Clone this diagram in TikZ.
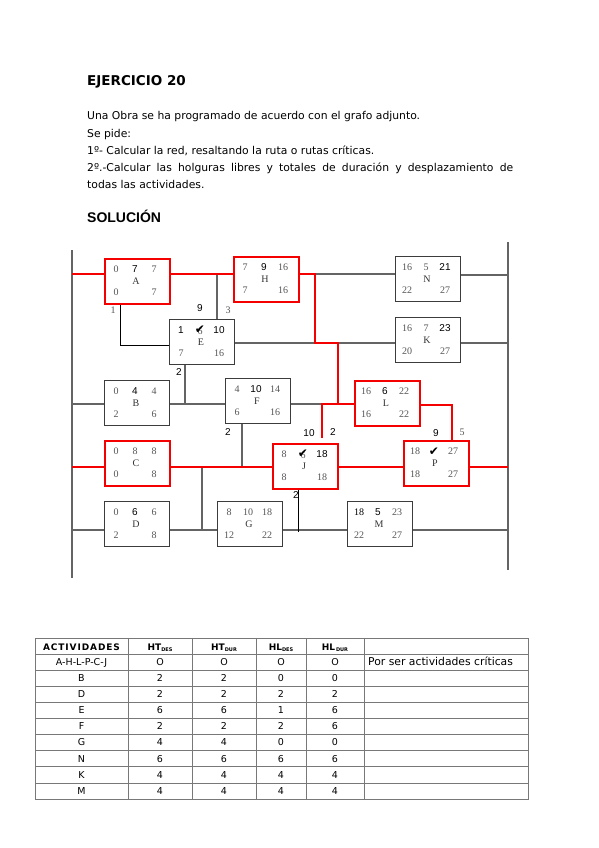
\documentclass[tikz,border=0pt]{standalone}
\usepackage{fontspec}
\setmainfont{DejaVu Sans}
\newfontfamily\serifnum{Liberation Serif}
\newfontfamily\arialf{Liberation Sans}
\newfontfamily\djv{DejaVu Sans}
\usetikzlibrary{calc}
\definecolor{numgray}{RGB}{85,85,85}
\definecolor{boxgray}{RGB}{60,60,60}
\definecolor{lngray}{RGB}{100,100,100}
\definecolor{tabgray}{RGB}{120,120,120}
\definecolor{critred}{RGB}{245,0,0}
\newcommand{\GN}[1]{{\serifnum\color{numgray}#1}}
\newcommand{\KN}[1]{{\serifnum\color{black}#1}}
\newcommand{\BN}[1]{{\arialf\color{black}#1}}
\newcommand{\LT}[1]{{\serifnum\color{black!80}#1}}
\newcommand{\CK}{{\djv\fontsize{12}{12}\selectfont\char"2714}}
\newcommand{\CKover}[1]{\makebox[0pt]{\GN{#1}}\makebox[0pt]{\raisebox{0.5pt}{\CK}}}
\newcommand{\actbox}[9]{%
  \node[#2] (#1) at #3 {};
  \node[bt] (#1-tl) at ([xshift=12pt,yshift=-11.5pt]#1.north west) {#4};
  \node[bt] (#1-tm) at ([xshift=31pt,yshift=-11.5pt]#1.north west) {#5};
  \node[bt] (#1-tr) at ([xshift=50pt,yshift=-11.5pt]#1.north west) {#6};
  \node[bt] (#1-lt) at ([xshift=32pt,yshift=-23pt]#1.north west) {#7};
  \node[bt] (#1-bl) at ([xshift=12pt,yshift=-34pt]#1.north west) {#8};
  \node[bt] (#1-br) at ([xshift=50pt,yshift=-34pt]#1.north west) {#9};
}
\newcommand{\trow}[8]{%
  \node[tc] (t#1a) at (81.5,#2) {#3};
  \node[tc] (t#1b) at (160,#2) {#4};
  \node[tc] (t#1c) at (224,#2) {#5};
  \node[tc] (t#1d) at (281,#2) {#6};
  \node[tc] (t#1e) at (335,#2) {#7};
  \node[tc, anchor=base west, font=\fontsize{10.8}{10.8}\selectfont] (t#1f) at (368,#2) {#8};
}
\newcommand{\HSub}[2]{\textbf{#1}\raisebox{-1pt}{\fontsize{5}{5}\selectfont\bfseries #2}}
\begin{document}
\begin{tikzpicture}[x=1pt,y=-1pt,
  actbox/.style={draw=boxgray, line width=1.2pt, fill=white, minimum width=65pt, minimum height=45pt, inner sep=0pt, anchor=north west},
  critbox/.style={actbox, draw=critred, line width=2pt},
  bt/.style={inner sep=0pt, anchor=center, font=\fontsize{10}{10}\selectfont},
  gl/.style={draw=lngray, line width=1.1pt},
  bl/.style={draw=black, line width=0.9pt},
  rl/.style={draw=critred, line width=2pt},
  lg/.style={inner sep=0pt, font=\serifnum\fontsize{10}{10}\selectfont, text=numgray},
  lb/.style={inner sep=0pt, font=\arialf\fontsize{10}{10}\selectfont, text=black},
  body/.style={anchor=base west, inner sep=0pt, font=\fontsize{10.8}{12}\selectfont},
  tabl/.style={draw=tabgray, line width=0.8pt},
  tc/.style={inner sep=0pt, anchor=base, font=\fontsize{9.5}{9.5}\selectfont},
  th/.style={inner sep=0pt, anchor=base, font=\fontsize{9}{9}\selectfont}]
\useasboundingbox (0,0) rectangle (599,848);
\fill[white] (0,0) rectangle (599,848);

% header text
\node[anchor=base west, inner sep=0pt, font=\bfseries\fontsize{13.5}{13.5}\selectfont] (title) at (87,86) {EJERCICIO 20};
\node[body] (l1) at (87,120) {Una Obra se ha programado de acuerdo con el grafo adjunto.};
\node[body] (l2) at (87,137) {Se pide:};
\node[body] (l3) at (87,154) {1º- Calcular la red, resaltando la ruta o rutas críticas.};
\node[body] (l4) at (87,171) {\makebox[426pt][s]{2º.-Calcular las holguras libres y totales de duración y desplazamiento de}};
\node[body] (l5) at (87,188) {todas las actividades.};
\node[anchor=base west, inner sep=0pt, font=\arialf\bfseries\fontsize{14}{14}\selectfont] (sol) at (87,222) {SOLUCIÓN};

% boxes
\actbox{A}{critbox}{(104,258)}{\GN{0}}{\BN{7}}{\GN{7}}{\LT{A}}{\GN{0}}{\GN{7}}
\actbox{H}{critbox}{(233,256)}{\GN{7}}{\BN{9}}{\GN{16}}{\LT{H}}{\GN{7}}{\GN{16}}
\actbox{N}{actbox}{(395,256)}{\GN{16}}{\GN{5}}{\BN{21}}{\LT{N}}{\GN{22}}{\GN{27}}
\actbox{E}{actbox}{(169,319)}{\BN{1}}{\CKover{6}}{\BN{10}}{\LT{E}}{\GN{7}}{\GN{16}}
\actbox{K}{actbox}{(395,317)}{\GN{16}}{\GN{7}}{\BN{23}}{\LT{K}}{\GN{20}}{\GN{27}}
\actbox{B}{actbox}{(104,380)}{\GN{0}}{\BN{4}}{\GN{4}}{\LT{B}}{\GN{2}}{\GN{6}}
\actbox{F}{actbox}{(225,378)}{\GN{4}}{\BN{10}}{\GN{14}}{\LT{F}}{\GN{6}}{\GN{16}}
\actbox{L}{critbox}{(354,380)}{\GN{16}}{\BN{6}}{\GN{22}}{\LT{L}}{\GN{16}}{\GN{22}}
\actbox{C}{critbox}{(104,440)}{\GN{0}}{\GN{8}}{\GN{8}}{\LT{C}}{\GN{0}}{\GN{8}}
\actbox{J}{critbox}{(272,443)}{\GN{8}}{\CKover{6}}{\BN{18}}{\LT{J}}{\GN{8}}{\GN{18}}
\actbox{P}{critbox}{(403,440)}{\GN{18}}{\CK}{\GN{27}}{\LT{P}}{\GN{18}}{\GN{27}}
\actbox{D}{actbox}{(104,501)}{\GN{0}}{\BN{6}}{\GN{6}}{\LT{D}}{\GN{2}}{\GN{8}}
\actbox{G}{actbox}{(217,501)}{\GN{8}}{\GN{10}}{\GN{18}}{\LT{G}}{\GN{12}}{\GN{22}}
\actbox{M}{actbox}{(347,501)}{\KN{18}}{\BN{5}}{\GN{23}}{\LT{M}}{\GN{22}}{\GN{27}}

% coordinates
\coordinate (Lt) at (72,250); \coordinate (Lb) at (72,578);
\coordinate (Rt) at (508,242); \coordinate (Rb) at (508,570);
\coordinate (w1) at (72,274); \coordinate (e1) at (508,275);
\coordinate (c1) at (315,274); \coordinate (c2) at (315,343);
\coordinate (c3) at (338,343); \coordinate (c4) at (338,404);
\coordinate (c5) at (322,404); \coordinate (c6) at (322,438);
\coordinate (c7) at (452,405); \coordinate (c8) at (217,274);
\coordinate (c9) at (120,345); \coordinate (eE) at (508,343);
\coordinate (c10) at (185,404); \coordinate (wB) at (72,404);
\coordinate (c11) at (242,467); \coordinate (wC) at (72,467);
\coordinate (eC) at (508,467); \coordinate (c12) at (202,467);
\coordinate (c13) at (202,530); \coordinate (c14) at (298,532);
\coordinate (wD) at (72,530); \coordinate (eD) at (508,530);

% walls
\draw[gl] (Lt) -- (Lb);
\draw[gl] (Rt) -- (Rb);
% gray connectors
\draw[gl] (c1) -- (N.west |- c1);
\draw[gl] (N.east |- e1) -- (e1);
\draw[gl] (c8) -- (E.north -| c8);
\draw[gl] (E.east |- c2) -- (K.west |- c2);
\draw[gl] (K.east |- c2) -- (eE);
\draw[gl] (E.south -| c10) -- (c10);
\draw[gl] (wB) -- (B.west |- wB);
\draw[gl] (B.east |- wB) -- (F.west |- wB);
\draw[gl] (F.east |- c5) -- (c5);
\draw[gl] (F.south -| c11) -- (c11);
\draw[gl] (c12) -- (c13);
\draw[gl] (wD) -- (D.west |- wD);
\draw[gl] (D.east |- wD) -- (G.west |- wD);
\draw[gl] (G.east |- wD) -- (M.west |- wD);
\draw[gl] (M.east |- wD) -- (eD);
% black connectors
\draw[bl] (A.south -| c9) -- (c9) -- (E.west |- c9);
\draw[bl] (J.south -| c14) -- (c14);
% red critical path
\draw[rl] (w1) -- (A.west |- w1);
\draw[rl] (A.east |- w1) -- (H.west |- w1);
\draw[rl] (H.east |- c1) -- (c1) -- (c2) -- (c3) -- (c4) -- (L.west |- c4);
\draw[rl] (c6) -- (c5) -- (c4);
\draw[rl] (L.east |- c7) -- (c7) -- (P.north -| c7);
\draw[rl] (wC) -- (C.west |- wC);
\draw[rl] (C.east |- wC) -- (J.west |- wC);
\draw[rl] (J.east |- wC) -- (P.west |- wC);
\draw[rl] (P.east |- wC) -- (eC);

% labels
\node[lg] (lab1) at (113,310) {1};
\node[lb] (lab9E) at (200,308) {9};
\node[lg] (lab3E) at (228,310) {3};
\node[lb] (lab2E) at (179,372) {2};
\node[lb] (lab2F) at (228,432) {2};
\node[lb] (lab10J) at (309,433) {10};
\node[lb] (lab2J) at (333,432) {2};
\node[lb] (lab9P) at (436,433) {9};
\node[lg] (lab5P) at (462,432) {5};
\node[lb] (lab2Jb) at (296,495) {2};

% table
\draw[tabl] (35,638) rectangle (528,799);
\foreach \yy in {654.1,670.2,686.3,702.4,718.5,734.6,750.7,766.8,782.9}
  \draw[tabl] (35,\yy) -- (528,\yy);
\foreach \xx in {128,192,256,306,364}
  \draw[tabl] (\xx,638) -- (\xx,799);
\node[th] (h1) at (81.5,650) {\bfseries\addfontfeature{LetterSpace=10}ACTIVIDADES};
\node[th] (h2) at (160,650) {\HSub{HT}{DES}};
\node[th] (h3) at (224,650) {\HSub{HT}{DUR}};
\node[th] (h4) at (281,650) {\HSub{HL}{DES}};
\node[th] (h5) at (335,650) {\HSub{HL}{\,DUR}};
\trow{1}{665.5}{A-H-L-P-C-J}{O}{O}{O}{O}{Por ser actividades críticas}
\trow{2}{681.5}{B}{2}{2}{0}{0}{}
\trow{3}{697.5}{D}{2}{2}{2}{2}{}
\trow{4}{713.5}{E}{6}{6}{1}{6}{}
\trow{5}{729.5}{F}{2}{2}{2}{6}{}
\trow{6}{745.5}{G}{4}{4}{0}{0}{}
\trow{7}{762}{N}{6}{6}{6}{6}{}
\trow{8}{778}{K}{4}{4}{4}{4}{}
\trow{9}{794}{M}{4}{4}{4}{4}{}
\end{tikzpicture}
\end{document}
